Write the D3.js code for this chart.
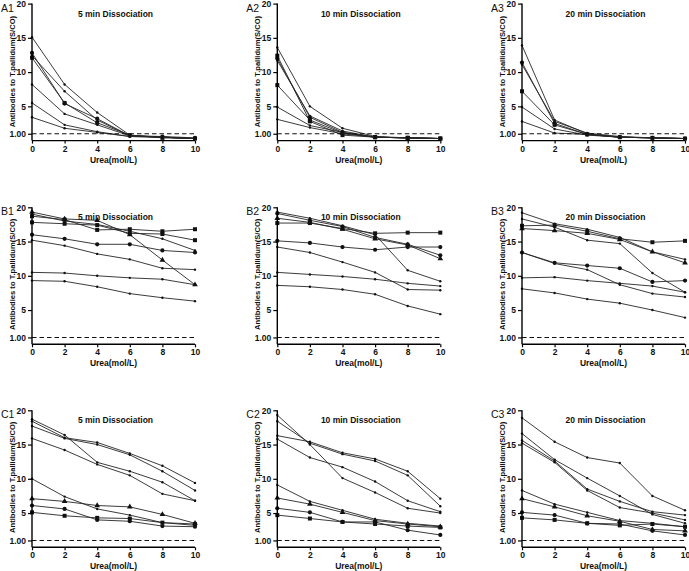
<!DOCTYPE html>
<html><head><meta charset="utf-8">
<script src="https://cdn.jsdelivr.net/npm/d3@7"></script>
<style>body{margin:0;background:#fff} svg{display:block}</style>
</head><body>
<svg id="c" width="689" height="571"></svg>
<script>
// ---------- data ----------
const ureaLevels = [0, 2, 4, 6, 8, 10];
const xTickValues = [0, 2, 4, 6, 8, 10];
const yTickValues = [1, 5, 10, 15, 20];
const yTickLabels = ["1.00", "5", "10", "15", "20"];
const cutoffValue = 1;
const panelIds = ["A1", "A2", "A3", "B1", "B2", "B3", "C1", "C2", "C3"];
const panelTitles = ["5 min Dissociation", "10 min Dissociation", "20 min Dissociation",
                     "5 min Dissociation", "10 min Dissociation", "20 min Dissociation",
                     "5 min Dissociation", "10 min Dissociation", "20 min Dissociation"];
const xAxisTitle = "Urea(mol/L)";
const yAxisTitle = "Antibodies to T.pallidum(S/CO)";

const a1Series = [
  [15.1, 8.2, 4.1, 0.8, 0.5, 0.3],
  [12.8, 5.4, 3.2, 0.7, 0.6, 0.4],
  [12.4, 7.2, 3.0, 0.7, 0.5, 0.3],
  [12.1, 5.5, 2.6, 0.8, 0.4, 0.3],
  [8.2, 3.9, 2.3, 0.7, 0.5, 0.3],
  [5.5, 2.3, 1.3, 0.6, 0.5, 0.3],
  [3.4, 1.8, 1.2, 0.6, 0.5, 0.3]
];
const a2Series = [
  [13.6, 5.0, 1.8, 0.6, 0.4, 0.3],
  [12.4, 2.8, 0.8, 0.5, 0.4, 0.3],
  [12.0, 3.4, 1.2, 0.5, 0.4, 0.3],
  [11.7, 3.6, 1.4, 0.5, 0.4, 0.3],
  [8.1, 3.0, 1.1, 0.5, 0.4, 0.3],
  [4.9, 2.2, 1.2, 0.5, 0.4, 0.3],
  [3.1, 1.9, 1.0, 0.5, 0.4, 0.3]
];
const a3Series = [
  [13.9, 3.0, 1.0, 0.5, 0.4, 0.3],
  [11.4, 2.5, 0.9, 0.5, 0.4, 0.3],
  [11.1, 2.8, 1.1, 0.6, 0.4, 0.3],
  [7.2, 2.3, 0.9, 0.5, 0.4, 0.3],
  [4.9, 1.7, 0.8, 0.5, 0.4, 0.3],
  [2.8, 1.1, 0.9, 0.5, 0.4, 0.3]
];
const b1Series = [
  [19.3, 18.3, 18.1, 16.0, 12.3, 8.7],
  [19.0, 18.0, 17.5, 16.5, 15.4, 13.7],
  [18.7, 18.2, 16.7, 16.8, 16.5, 16.8],
  [17.8, 17.6, 17.4, 16.2, 16.1, 15.2],
  [16.0, 15.4, 14.6, 14.6, 13.7, 13.4],
  [15.2, 14.4, 13.2, 12.4, 11.1, 10.9],
  [10.5, 10.4, 10.0, 9.7, 9.5, 8.7],
  [9.3, 9.2, 8.4, 7.4, 6.8, 6.3]
];
const b2Series = [
  [19.3, 18.4, 17.3, 16.0, 10.8, 9.2],
  [19.1, 18.1, 17.2, 15.6, 14.6, 13.0],
  [18.4, 17.8, 16.8, 15.4, 14.5, 12.5],
  [17.7, 17.7, 16.9, 16.2, 16.3, 16.3],
  [15.1, 14.8, 14.2, 13.8, 14.2, 14.2],
  [14.2, 13.4, 12.0, 10.5, 8.0, 7.9],
  [10.5, 10.2, 9.9, 9.5, 8.9, 8.5],
  [8.6, 8.4, 8.0, 7.3, 5.6, 4.4]
];
const b3Series = [
  [19.2, 17.6, 16.8, 15.6, 13.5, 12.4],
  [18.3, 17.1, 15.2, 14.7, 10.4, 7.6],
  [17.3, 17.4, 16.5, 15.4, 14.9, 15.1],
  [16.9, 16.6, 16.2, 15.3, 13.5, 11.9],
  [13.4, 11.9, 11.5, 11.1, 9.1, 9.3],
  [13.4, 11.8, 10.9, 8.7, 7.4, 6.9],
  [9.7, 9.8, 9.3, 8.9, 8.5, 7.6],
  [8.1, 7.5, 6.6, 6.0, 5.0, 3.9]
];
const c1Series = [
  [18.7, 16.4, 12.4, 11.1, 9.5, 6.8],
  [18.4, 16.0, 15.3, 13.7, 11.9, 9.4],
  [17.7, 15.9, 15.0, 13.5, 11.1, 8.3],
  [15.9, 14.2, 12.1, 10.5, 7.8, 6.8],
  [10.0, 7.4, 5.6, 4.7, 3.6, 3.2],
  [7.1, 6.7, 6.1, 5.9, 4.8, 3.5],
  [6.1, 5.6, 4.0, 3.8, 3.1, 3.0],
  [5.1, 4.6, 4.3, 4.2, 3.6, 3.4]
];
const c2Series = [
  [19.3, 15.0, 10.1, 8.0, 5.7, 5.0],
  [18.4, 15.2, 13.6, 12.6, 10.5, 6.0],
  [16.3, 15.4, 13.8, 12.9, 11.1, 7.1],
  [15.8, 13.1, 11.7, 9.6, 6.8, 5.2],
  [9.1, 6.7, 5.4, 4.1, 3.5, 3.1],
  [7.2, 6.3, 5.1, 3.9, 3.4, 3.0],
  [5.7, 5.1, 3.7, 3.7, 2.5, 1.8],
  [4.7, 4.2, 3.7, 3.4, 3.1, 2.9]
];
const c3Series = [
  [18.9, 15.4, 13.1, 12.3, 7.5, 5.4],
  [16.6, 12.8, 10.1, 7.5, 4.8, 3.5],
  [15.6, 12.6, 8.5, 6.7, 5.2, 4.7],
  [15.2, 12.4, 8.3, 5.8, 5.0, 4.0],
  [8.3, 6.3, 5.1, 3.9, 3.5, 3.0],
  [7.1, 5.9, 4.6, 3.8, 2.6, 2.4],
  [5.1, 4.7, 3.5, 3.4, 2.4, 1.8],
  [4.3, 4.0, 3.5, 3.2, 3.4, 3.0]
];
const panelSeries = [a1Series, a2Series, a3Series, b1Series, b2Series, b3Series, c1Series, c2Series, c3Series];

// ---------- styles ----------
const markerSets = [
  ["dot", "circle", "dot", "square", "dot", "dot", "dot"],
  ["dot", "square", "circle", "dot", "square", "dot", "dot"],
  ["dot", "circle", "dot", "square", "dot", "dot"],
  ["triangle", "dot", "square", "square", "circle", "dot", "dot", "dot"],
  ["dot", "circle", "triangle", "square", "circle", "dot", "dot", "dot"],
  ["dot", "dot", "square", "triangle", "circle", "dot", "dot", "dot"],
  ["dot", "dot", "dot", "dot", "dot", "triangle", "circle", "square"],
  ["dot", "dot", "dot", "dot", "dot", "triangle", "circle", "square"],
  ["dot", "dot", "dot", "dot", "dot", "triangle", "circle", "square"]
];
const colX = [32, 277.3, 522];
const rowTop = [3.6, 207.3, 410.3];
const yTitleCenter = [68, 67, 67];
const plotW = 163, plotH = 137;
const FONT = "'Liberation Sans', Arial, sans-serif";

const svg = d3.select("#c");

panelSeries.forEach((series, i) => {
  const col = i % 3, row = Math.floor(i / 3);
  const x0 = colX[col], y0 = rowTop[row];
  const g = svg.append("g").attr("transform", `translate(${x0},${y0})`);
  const x = d3.scaleLinear().domain([0, 10]).range([0, plotW]);
  const y = d3.scaleLinear().domain([0, 20]).range([plotH, 0]);

  // series lines
  const line = d3.line().x((d, j) => x(ureaLevels[j])).y(d => y(d));
  series.forEach((vals, s) => {
    g.append("path").attr("d", line(vals))
      .attr("fill", "none").attr("stroke", "#262626").attr("stroke-width", 0.9);
    const shape = markerSets[i][s];
    vals.forEach((v, j) => {
      const cx = x(ureaLevels[j]), cy = y(v);
      if (shape === "dot") {
        g.append("circle").attr("cx", cx).attr("cy", cy).attr("r", 1.2).attr("fill", "#111");
      } else if (shape === "circle") {
        g.append("circle").attr("cx", cx).attr("cy", cy).attr("r", 2.1).attr("fill", "#111");
      } else if (shape === "square") {
        g.append("rect").attr("x", cx - 2).attr("y", cy - 2).attr("width", 4).attr("height", 4).attr("fill", "#111");
      } else if (shape === "triangle") {
        g.append("path").attr("d", d3.symbol(d3.symbolTriangle, 14)()).attr("transform", `translate(${cx},${cy})`).attr("fill", "#111");
      }
    });
  });

  // cutoff dashed line
  g.append("line").attr("x1", x(0)).attr("x2", x(10)).attr("y1", y(cutoffValue)).attr("y2", y(cutoffValue))
    .attr("stroke", "#111").attr("stroke-width", 1.1).attr("stroke-dasharray", "4.5,3");

  // axes
  const yAxis = d3.axisLeft(y).tickValues(yTickValues).tickFormat((d, k) => yTickLabels[k]).tickSize(4).tickPadding(2);
  const xAxis = d3.axisBottom(x).tickValues(xTickValues).tickFormat(d3.format("d")).tickSize(3).tickPadding(2);
  const ya = g.append("g").call(yAxis);
  const xa = g.append("g").attr("transform", `translate(0,${plotH})`).call(xAxis);
  [ya, xa].forEach(a => {
    a.select(".domain").attr("stroke", "#000").attr("stroke-width", 1.4);
    a.selectAll(".tick line").attr("stroke", "#000").attr("stroke-width", 1.2);
    a.selectAll(".tick text").attr("fill", "#111").style("font-family", FONT)
      .style("font-size", "8.5px").style("font-weight", "bold");
  });
  ya.select(".domain").attr("d", `M0,${plotH}V0`);
  xa.select(".domain").attr("d", `M0,0H${plotW}`);

  // titles
  g.append("text").attr("x", plotW / 2 + 2).attr("y", 13).attr("text-anchor", "middle")
    .style("font-family", FONT).style("font-size", "8.5px").style("font-weight", "bold").attr("fill", "#111")
    .text(panelTitles[i]);
  g.append("text").attr("x", plotW / 2).attr("y", plotH + 22).attr("text-anchor", "middle")
    .style("font-family", FONT).style("font-size", "8.5px").style("font-weight", "bold").attr("fill", "#111")
    .text(xAxisTitle);
  g.append("text").attr("transform", `translate(-17.5,${yTitleCenter[row]}) rotate(-90)`).attr("text-anchor", "middle")
    .style("font-family", FONT).style("font-size", "7.6px").style("font-weight", "bold").attr("fill", "#111")
    .text(yAxisTitle);
  g.append("text").attr("x", -31).attr("y", 8).style("font-family", FONT).style("font-size", "10.5px").attr("fill", "#111")
    .text(panelIds[i]);
});
</script>
</body></html>
